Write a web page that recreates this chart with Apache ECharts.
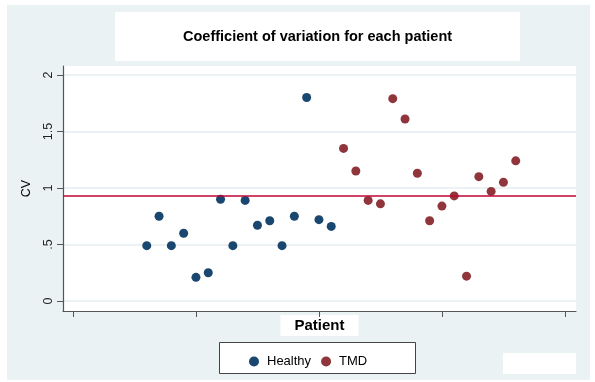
<!DOCTYPE html>
<html><head><meta charset="utf-8">
<script src="https://cdn.jsdelivr.net/npm/echarts@6/dist/echarts.min.js"></script>
<style>html,body{margin:0;padding:0;background:#fff}#c{width:595px;height:382px}</style>
</head><body><div id="c"></div>
<script>
const healthyX = [6,7,8,9,10,11,12,13,14,15,16,17,18,19,20,21];
const healthyCV = [0.49,0.75,0.49,0.60,0.21,0.25,0.90,0.49,0.89,0.67,0.71,0.49,0.75,1.80,0.72,0.66];
const tmdX = [22,23,24,25,26,27,28,29,30,31,32,33,34,35,36];
const tmdCV = [1.35,1.15,0.89,0.86,1.79,1.61,1.13,0.71,0.84,0.93,0.22,1.10,0.97,1.05,1.24];
const meanLine = 0.93;
const yTicks = [0, 0.5, 1, 1.5, 2];
const yTickLabels = ['0', '.5', '1', '1.5', '2'];
const xTicks = [0, 10, 20, 30, 40];

const FONT = 'Liberation Sans, Arial, sans-serif';
const chart = echarts.init(document.getElementById('c'), null, {renderer: 'canvas'});
chart.setOption({
  backgroundColor: '#ffffff',
  animation: false,
  graphic: [
    {type: 'rect', z: -10, shape: {x: 7, y: 5, width: 583, height: 375}, style: {fill: '#eaf2f3'}, silent: true},
    {type: 'rect', z: -8, shape: {x: 63, y: 66, width: 513, height: 245}, style: {fill: '#ffffff'}, silent: true},
    {type: 'rect', z: -5, shape: {x: 503, y: 353, width: 73, height: 21}, style: {fill: '#ffffff'}, silent: true},
    {type: 'rect', z: -5, shape: {x: 219.5, y: 342.5, width: 196, height: 31}, style: {fill: '#ffffff', stroke: '#444', lineWidth: 1}, silent: true}
  ],
  title: {
    text: 'Coefficient of variation for each patient',
    left: 115, top: 12,
    backgroundColor: '#ffffff',
    padding: [17, 68, 17, 68],
    textStyle: {fontFamily: FONT, fontWeight: 'bold', fontSize: 14.5, color: '#000'}
  },
  legend: {
    left: 244, top: 350,
    itemWidth: 16, itemHeight: 10, itemGap: 10,
    icon: 'circle',
    textStyle: {fontFamily: FONT, fontSize: 13, color: '#000'},
    data: ['Healthy', 'TMD']
  },
  grid: {left: 63, right: 19, top: 66, bottom: 71, show: false, containLabel: false},
  xAxis: {
    type: 'value', min: -0.81, max: 40.9,
    name: 'Patient', nameLocation: 'middle', nameGap: 4,
    nameTextStyle: {fontFamily: FONT, fontWeight: 'bold', fontSize: 15, color: '#000', backgroundColor: '#ffffff', padding: [3, 14, 3, 14]},
    axisLine: {show: true, onZero: false, lineStyle: {color: '#555555', width: 1.2}},
    axisTick: {show: true, length: 6, customValues: xTicks, lineStyle: {color: '#555555'}},
    axisLabel: {show: false},
    splitLine: {show: false}
  },
  yAxis: {
    type: 'value', min: -0.088, max: 2.079,
    name: 'CV', nameLocation: 'middle', nameGap: 30, nameRotate: 90,
    nameTextStyle: {fontFamily: FONT, fontSize: 12.5, color: '#000'},
    axisLine: {show: true, onZero: false, lineStyle: {color: '#555555', width: 1.2}},
    axisTick: {show: true, length: 6, customValues: yTicks, lineStyle: {color: '#555555'}},
    axisLabel: {show: true, rotate: 90, margin: 8, customValues: yTicks,
      fontFamily: FONT, fontSize: 12.5, color: '#222',
      formatter: function (v) { const i = yTicks.indexOf(Math.round(v * 100) / 100); return i >= 0 ? yTickLabels[i] : ''; }},
    splitLine: {show: true, lineStyle: {color: '#e6eef0', width: 1.5}}
  },
  series: [
    {name: 'Healthy', type: 'scatter', symbol: 'circle', symbolSize: 9,
      itemStyle: {color: '#1a476f', opacity: 1},
      data: healthyX.map((x, i) => [x, healthyCV[i]]),
      markLine: {silent: true, symbol: 'none', label: {show: false},
        lineStyle: {color: '#c10534', width: 1.5, type: 'solid'},
        data: [{yAxis: meanLine}]}
    },
    {name: 'TMD', type: 'scatter', symbol: 'circle', symbolSize: 9,
      itemStyle: {color: '#90353b', opacity: 1},
      data: tmdX.map((x, i) => [x, tmdCV[i]])}
  ]
});
</script></body></html>
